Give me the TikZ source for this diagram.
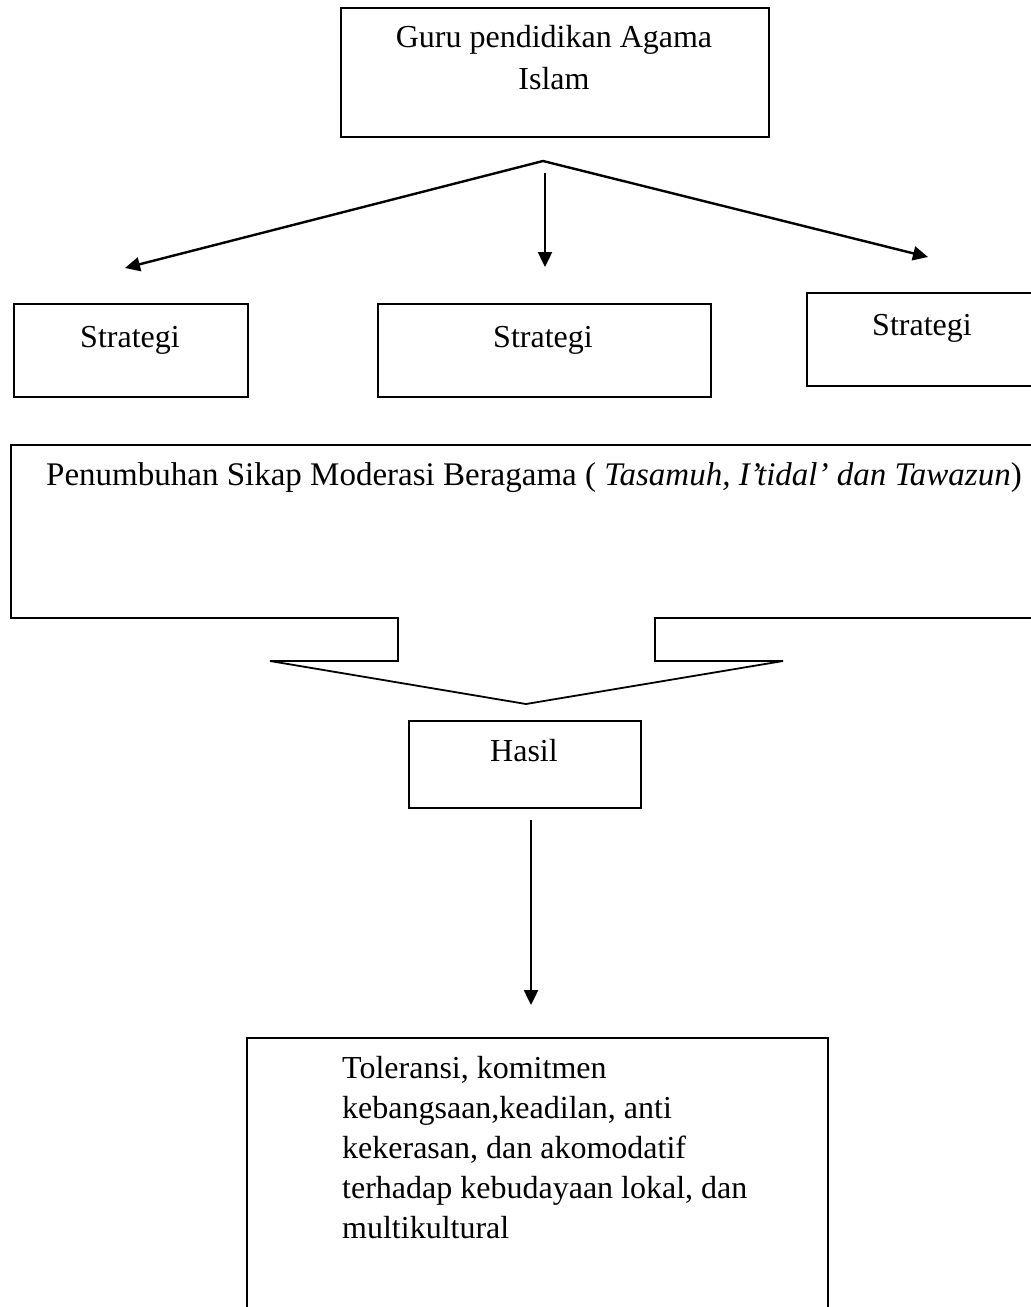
\documentclass[tikz,border=0pt]{standalone}
\usepackage{fontspec}
\setmainfont{Liberation Serif}
\usetikzlibrary{arrows.meta,positioning,calc}

\tikzset{
  box/.style={draw, line width=2pt, inner sep=0pt, anchor=north west},
  word/.style={inner sep=0pt, anchor=base, font=\fontsize{32}{42}\selectfont},
  arr/.style={line width=2.4pt, -{Triangle[length=15pt,width=14pt]}},
  twin/.style={line width=2.4pt, {Triangle[length=15pt,width=14pt]}-{Triangle[length=15pt,width=14pt]}}
}

\begin{document}
\begin{tikzpicture}[x=1pt, y=-1pt]
\useasboundingbox (0,0) rectangle (1031,1307);
\node[box, minimum width=428pt, minimum height=129pt] (guru)   at (340,7)    {};
\node[box, minimum width=234pt, minimum height=93pt]  (strat1) at (13,303)   {};
\node[box, minimum width=333pt, minimum height=93pt]  (strat2) at (377,303)  {};
\node[box, minimum width=230pt, minimum height=93pt]  (strat3) at (806,292)  {};
\node[box, minimum width=232pt, minimum height=87pt]  (hasil)  at (408,720)  {};
\node[box, minimum width=581pt, minimum height=280pt] (akhir)  at (246,1037) {};
\node[word, align=center] (gurutxt) at (554,89) {Guru pendidikan Agama\\Islam};
\node[word] (strat1txt) at (130,347) {Strategi};
\node[word] (strat2txt) at (543,347) {Strategi};
\node[word] (strat3txt) at (922,335) {Strategi};
\node[word, anchor=base west, font=\fontsize{33}{42}\selectfont] (moderasi) at (46,485)
  {Penumbuhan Sikap Moderasi Beragama ( \textit{Tasamuh, I’tidal’ dan Tawazun})};
\node[word] (hasiltxt) at (524,761) {Hasil};
\node[word, anchor=base west, align=left, font=\fontsize{32}{40}\selectfont] (akhirtxt) at (342,1238)
  {Toleransi, komitmen\\kebangsaan,keadilan, anti\\kekerasan, dan akomodatif\\terhadap kebudayaan lokal, dan\\multikultural};
\coordinate (apex)  at (543,161);
\coordinate (tipL)  at (125,268);
\coordinate (tipR)  at (928,257);
\coordinate (midA)  at (545,173);
\coordinate (midB)  at (545,267);
\coordinate (downA) at (531,820);
\coordinate (downB) at (531,1005);
\draw[twin] (tipL) -- (apex) -- (tipR);
\draw[arr] (midA) -- (midB);
\draw[arr] (downA) -- (downB);
\draw[line width=1.8pt] (1036,445) -- (11,445) -- (11,618) -- (398,618) -- (398,661) -- (270,661)
  -- (526,704) -- (783,661) -- (655,661) -- (655,618) -- (1036,618);
\end{tikzpicture}
\end{document}
